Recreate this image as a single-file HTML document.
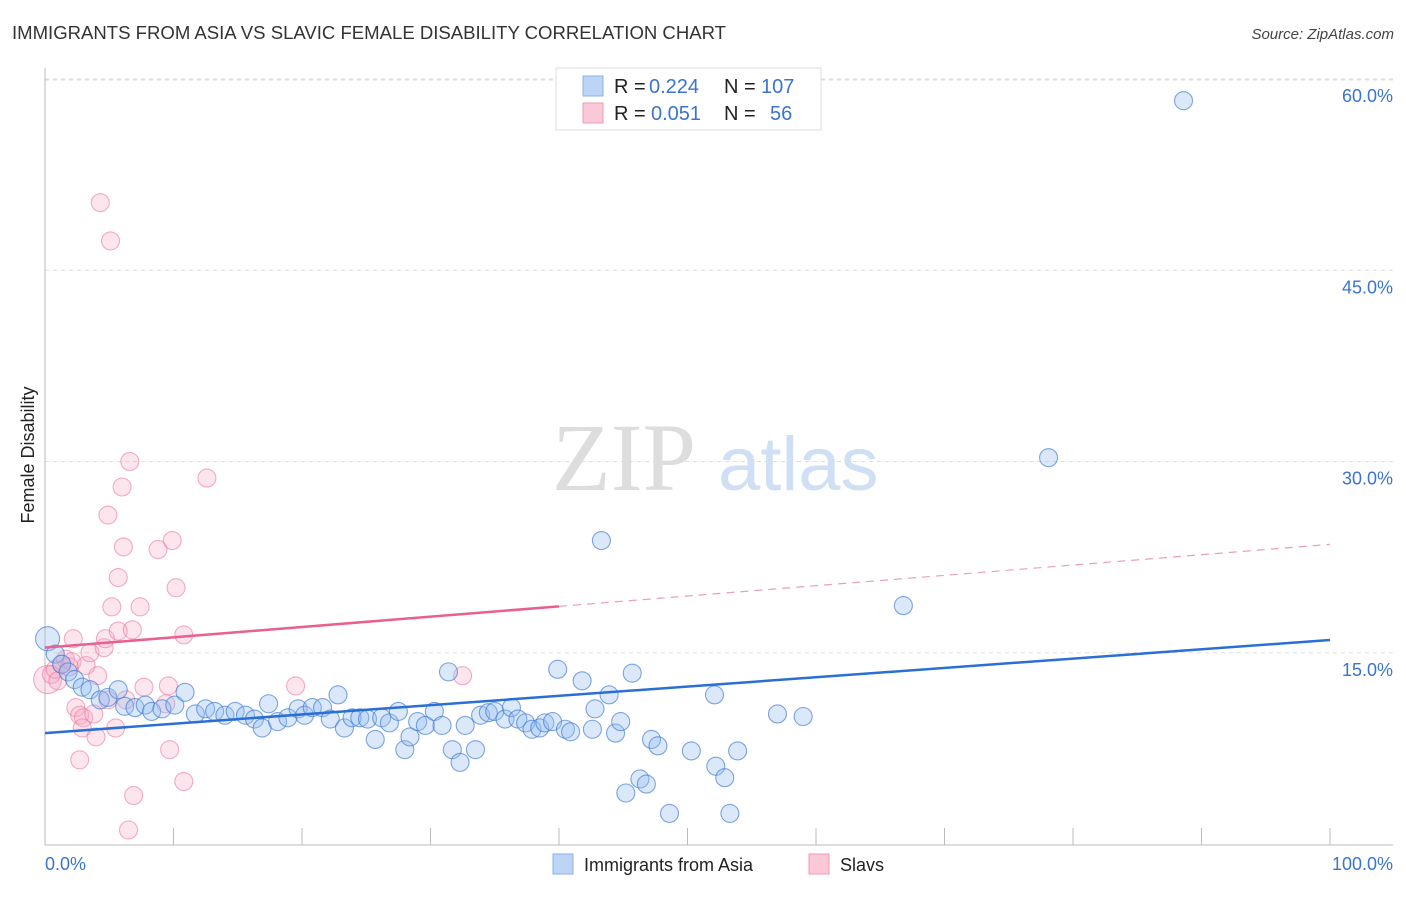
<!DOCTYPE html>
<html><head><meta charset="utf-8"><style>
body{margin:0;background:#fff;font-family:"Liberation Sans",sans-serif;}
</style></head><body>
<svg id="chart" width="1406" height="892" xmlns="http://www.w3.org/2000/svg" style="font-family:'Liberation Sans',sans-serif">
<text x="12" y="39" font-size="18" fill="#333" textLength="714" lengthAdjust="spacingAndGlyphs">IMMIGRANTS FROM ASIA VS SLAVIC FEMALE DISABILITY CORRELATION CHART</text>
<text x="1394" y="39" font-size="15" fill="#444" font-style="italic" text-anchor="end">Source: ZipAtlas.com</text>
<g id="grid"></g>
<line x1="45" y1="68" x2="45" y2="845" stroke="#bbb"/>
<line x1="45" y1="845" x2="1393" y2="845" stroke="#bbb"/>
<g id="xticks"></g>
<text x="552" y="490" font-size="96" fill="#ddd" font-family="Liberation Serif,serif">ZIP</text>
<text x="718" y="490" font-size="76" fill="#cfe0f5">atlas</text>
<text transform="translate(34,455) rotate(-90)" font-size="18" fill="#222" text-anchor="middle">Female Disability</text>
<g id="ylabels"></g>
<text x="45" y="870" font-size="18" fill="#3a74d0">0.0%</text>
<text x="1393" y="870" font-size="18" fill="#3a74d0" text-anchor="end">100.0%</text>
<g id="pts"></g>
<g id="lines"></g>
<g>
<rect x="556" y="68" width="265" height="62" fill="#fff" stroke="#ddd"/>
<rect x="583" y="76" width="20" height="20" fill="#bcd4f5" stroke="#8ab0e8"/>
<rect x="583" y="103" width="20" height="20" fill="#fbc8d7" stroke="#f09ab5"/>
<text y="93" font-size="20" fill="#222"><tspan x="614">R =</tspan><tspan x="649" fill="#3a74d0">0.224</tspan><tspan x="724">N =</tspan><tspan x="761" fill="#3a74d0">107</tspan></text>
<text y="120" font-size="20" fill="#222"><tspan x="614">R =</tspan><tspan x="651" fill="#3a74d0">0.051</tspan><tspan x="724">N =</tspan><tspan x="770" fill="#3a74d0">56</tspan></text>
</g>
<g>
<rect x="553" y="854" width="20" height="20" fill="#bcd4f5" stroke="#8ab0e8"/>
<text x="584" y="871" font-size="18" fill="#222">Immigrants from Asia</text>
<rect x="809" y="854" width="20" height="20" fill="#fbc8d7" stroke="#f09ab5"/>
<text x="840" y="871" font-size="18" fill="#222">Slavs</text>
</g>
</svg>
<script>
const yTicks=[15,30,45,60];
const yTickLabels=["15.0%","30.0%","45.0%","60.0%"];
const xTicks=[0,10,20,30,40,50,60,70,80,90,100];
const asiaX=[0.2,0.8,1.3,1.8,2.3,2.9,3.5,4.3,4.9,5.7,6.2,7.0,7.8,8.3,9.1,10.1,10.9,11.7,12.5,13.2,14.0,14.8,15.6,16.3,16.9,17.4,18.1,18.9,19.7,20.2,20.8,21.6,22.2,22.8,23.3,23.9,24.5,25.1,25.7,26.2,26.8,27.5,28.0,28.4,29.0,29.6,30.3,30.9,31.4,31.7,32.3,32.7,33.5,33.9,34.5,35.0,35.8,36.3,36.8,37.4,37.9,38.5,38.9,39.5,39.9,40.5,40.9,41.8,42.6,42.8,43.3,43.9,44.4,44.8,45.7,47.2,47.7,46.3,46.8,45.2,48.6,50.3,52.1,52.2,52.9,53.3,53.9,57.0,59.0,66.8,78.1,88.6];
const asiaY=[16.1,14.9,14.1,13.5,12.9,12.3,12.1,11.3,11.5,12.1,10.8,10.7,10.9,10.4,10.6,10.9,11.9,10.2,10.6,10.4,10.1,10.4,10.1,9.8,9.1,11.0,9.6,9.9,10.6,10.1,10.7,10.7,9.8,11.7,9.1,9.9,9.9,9.8,8.2,9.9,9.5,10.4,7.4,8.4,9.6,9.3,10.4,9.3,13.5,7.4,6.4,9.3,7.4,10.1,10.3,10.4,9.8,10.7,9.8,9.5,9.0,9.1,9.5,9.6,13.7,9.0,8.8,12.8,9.0,10.6,23.8,11.7,8.7,9.6,13.4,8.2,7.7,5.1,4.7,4.0,2.4,7.3,11.7,6.1,5.2,2.4,7.3,10.2,10.0,18.7,30.3,58.3];
const slavX=[0.2,0.5,0.8,1.0,1.3,1.6,1.9,2.2,2.1,2.4,2.7,3.0,2.9,3.2,3.5,3.8,3.97,4.1,4.3,2.7,4.6,4.7,4.9,5.1,5.2,5.5,5.7,5.7,6.0,6.1,6.3,6.6,6.8,6.9,6.5,7.4,7.7,8.8,9.4,9.6,9.9,9.7,10.2,10.8,10.8,12.6,19.5,32.5,4.9];
const slavY=[12.9,13.3,13.7,12.8,14.1,14.5,13.9,16.1,14.3,10.7,10.1,9.9,9.1,14.0,15.0,10.2,8.4,13.2,50.3,6.6,15.4,16.1,11.3,47.3,18.6,9.1,16.7,20.9,28.0,23.3,11.3,30.0,16.8,3.8,1.1,18.6,12.3,23.1,11.0,12.4,23.8,7.4,20.1,16.4,4.9,28.7,12.4,13.2,25.8];
const asiaLine=[8.7,16.0];
const slavLine=[15.4,23.5];
const slavSolidEnd=40;
const NS="http://www.w3.org/2000/svg";
const X=v=>45+v*12.85, Y=v=>844-v*12.75;
function mk(tag,attrs,parent){const e=document.createElementNS(NS,tag);for(const k in attrs)e.setAttribute(k,attrs[k]);document.getElementById(parent).appendChild(e);return e;}
yTicks.forEach((t,i)=>{
 const g=mk('line',{x1:45,x2:1393,y1:Y(t),y2:Y(t),stroke:'#ddd','stroke-dasharray':'4,4'},'grid');
 
 
 const l=mk('text',{x:1393,y:Y(t)+23,'font-size':18,fill:'#3a74d0','text-anchor':'end'},'ylabels');
 l.textContent=yTickLabels[i];
 
 
});
const tg=mk('line',{x1:45,x2:1393,y1:80,y2:80,stroke:'#ddd','stroke-dasharray':'4,4'},'grid');


xTicks.forEach(t=>{
 const e=mk('line',{x1:X(t),x2:X(t),y1:828,y2:845,stroke:'#bbb'},'xticks');
 
 
});
slavX.forEach((x,i)=>{
 const r=i==0?14:9;
 const c=mk('circle',{cx:X(x),cy:Y(slavY[i]),r:r,fill:'rgba(248,170,195,0.3)',stroke:'rgba(235,120,160,0.6)','stroke-width':1.1},'pts');
 
 
});
asiaX.forEach((x,i)=>{
 const r=i==0?12:9;
 const c=mk('circle',{cx:X(x),cy:Y(asiaY[i]),r:r,fill:'rgba(150,190,240,0.35)',stroke:'rgba(60,120,210,0.65)','stroke-width':1.1},'pts');
 
 
});
const ly=(L,x)=>L[0]+(L[1]-L[0])*x/100;
let e=mk('line',{x1:X(0),y1:Y(asiaLine[0]),x2:X(100),y2:Y(asiaLine[1]),stroke:'#2a6fd6','stroke-width':2.5},'lines');


e=mk('line',{x1:X(0),y1:Y(slavLine[0]),x2:X(slavSolidEnd),y2:Y(ly(slavLine,slavSolidEnd)),stroke:'#e8608e','stroke-width':2.5},'lines');


e=mk('line',{x1:X(slavSolidEnd),y1:Y(ly(slavLine,slavSolidEnd)),x2:X(100),y2:Y(slavLine[1]),stroke:'#e8a0b8','stroke-width':1.2,'stroke-dasharray':'8,6'},'lines');


</script>
</body></html>
